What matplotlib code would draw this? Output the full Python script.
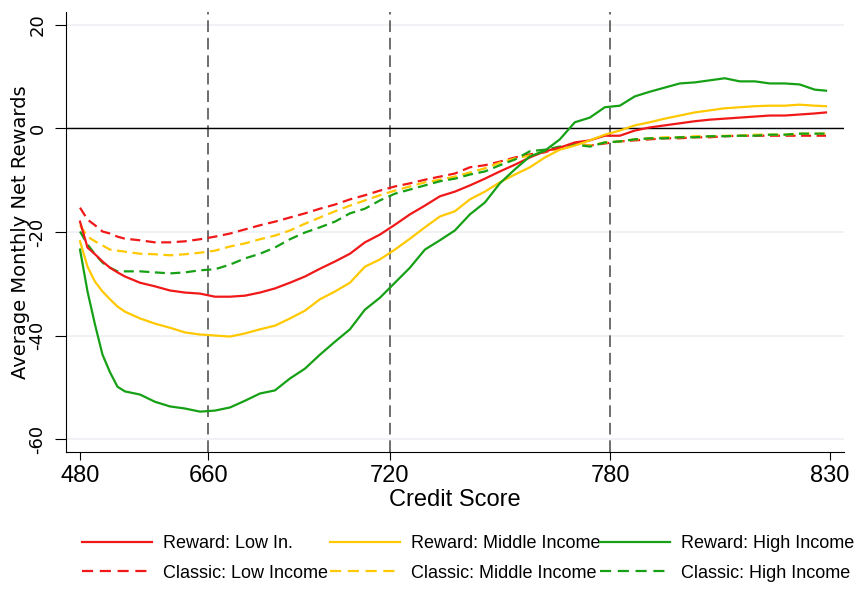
import matplotlib
matplotlib.use("Agg")
import matplotlib.pyplot as plt
from matplotlib.lines import Line2D

# x positions are credit-score percentiles (0-100), labelled with the score
pct = [0, 1, 2, 3, 4, 5, 6, 8, 10, 12, 14, 16, 18, 20, 22, 24, 26, 28, 30,
       32, 34, 36, 38, 40, 42, 44, 46, 48, 50, 52, 54, 56, 58, 60, 62, 64,
       66, 68, 70, 72, 74, 76, 78, 80, 82, 84, 86, 88, 90, 92, 94, 96, 98, 99.5]
score_labels = ["480", "660", "720", "780", "830"]
score_pct = [0, 17.1, 41.3, 70.7, 100]

reward_low = [-18.0, -23.0, -24.3, -25.7, -26.9, -27.8, -28.6, -29.8, -30.5,
              -31.3, -31.7, -31.9, -32.5, -32.5, -32.3, -31.7, -30.9, -29.8,
              -28.6, -27.1, -25.7, -24.2, -22.0, -20.5, -18.6, -16.6, -14.9,
              -13.1, -12.2, -11.0, -9.7, -8.3, -7.0, -5.6, -4.4, -3.7, -2.7,
              -2.3, -1.4, -1.4, -0.4, 0.2, 0.6, 1.0, 1.4, 1.7, 1.9, 2.1, 2.3,
              2.5, 2.5, 2.7, 2.9, 3.1]
reward_mid = [-21.8, -26.7, -29.6, -31.5, -33.0, -34.4, -35.4, -36.7, -37.7,
              -38.5, -39.4, -39.8, -40.0, -40.2, -39.6, -38.8, -38.1, -36.7,
              -35.2, -33.0, -31.5, -29.8, -26.7, -25.3, -23.4, -21.3, -19.1,
              -17.0, -16.0, -13.7, -12.2, -10.4, -8.9, -7.5, -5.6, -4.1, -3.3,
              -2.3, -1.2, -0.4, 0.6, 1.2, 1.9, 2.5, 3.1, 3.5, 3.9, 4.1, 4.3,
              4.4, 4.4, 4.6, 4.4, 4.3]
reward_high = [-23.4, -31.5, -37.9, -43.7, -47.1, -49.9, -50.8, -51.4, -52.8,
               -53.7, -54.1, -54.7, -54.5, -53.9, -52.6, -51.2, -50.6, -48.3,
               -46.4, -43.7, -41.2, -38.8, -35.0, -32.7, -29.8, -26.9, -23.4,
               -21.6, -19.7, -16.6, -14.3, -10.6, -7.9, -5.4, -4.3, -2.1, 1.2,
               2.1, 4.1, 4.4, 6.2, 7.1, 7.9, 8.7, 8.9, 9.3, 9.7, 9.1, 9.1, 8.7,
               8.7, 8.5, 7.5, 7.3]
classic_low = [-15.3, -17.6, -18.7, -19.9, -20.3, -20.9, -21.3, -21.6, -22.0,
               -22.0, -21.8, -21.4, -20.9, -20.3, -19.5, -18.7, -18.0, -17.2,
               -16.4, -15.5, -14.7, -13.7, -12.9, -12.0, -11.2, -10.6, -9.9,
               -9.3, -8.7, -7.5, -7.1, -6.4, -5.6, -5.0, -4.6, -3.7, -2.9, -3.3,
               -2.9, -2.5, -2.3, -2.1, -1.9, -1.9, -1.7, -1.7, -1.5, -1.4, -1.4,
               -1.4, -1.4, -1.4, -1.4, -1.4]
classic_mid = [-18.7, -20.9, -21.8, -22.6, -23.4, -23.6, -23.8, -24.2, -24.3,
               -24.5, -24.3, -24.0, -23.6, -22.8, -22.2, -21.4, -20.7, -19.7,
               -18.4, -17.2, -16.0, -14.9, -13.9, -12.9, -12.0, -11.2, -10.4,
               -9.9, -9.3, -8.5, -7.7, -6.6, -5.8, -5.2, -4.4, -3.9, -3.1, -3.3,
               -2.7, -2.5, -2.1, -1.9, -1.7, -1.7, -1.5, -1.5, -1.4, -1.4, -1.2,
               -1.2, -1.2, -1.0, -1.0, -1.0]
classic_high = [-19.9, -22.4, -24.3, -25.9, -26.9, -27.6, -27.6, -27.6, -27.8,
                -28.0, -27.8, -27.4, -27.2, -26.3, -25.1, -24.2, -23.0, -21.4,
                -20.1, -19.1, -18.0, -16.4, -15.5, -13.9, -12.6, -11.8, -11.0,
                -10.2, -9.7, -8.9, -8.3, -7.1, -6.0, -4.4, -4.1, -3.5, -3.1,
                -3.5, -2.7, -2.5, -2.1, -1.9, -1.9, -1.7, -1.7, -1.5, -1.5, -1.4,
                -1.4, -1.2, -1.2, -1.0, -1.0, -1.0]

RED = "#f01818"
YELLOW = "#ffc800"
GREEN = "#16a016"
SANS = "Liberation Sans"

fig = plt.figure(figsize=(8.6, 5.89), dpi=100)
ax = fig.add_axes([66 / 860, 1 - 452 / 589, 778 / 860, 440 / 589])

ax.set_xlim(-1.87, 101.9)
ax.set_ylim(-62.5, 22.5)
ax.yaxis.grid(True, color="#edf0f3", lw=1.2)
ax.set_axisbelow(True)

for p in score_pct[1:4]:
    ax.axvline(p, color="#555555", lw=1.2, dashes=(7, 3.5))
ax.axhline(0, color="black", lw=1.0)

lw = 1.6
dash = (4.5, 2.5)
ax.plot(pct, classic_low, color=RED, lw=lw, dashes=dash)
ax.plot(pct, classic_mid, color=YELLOW, lw=lw, dashes=dash)
ax.plot(pct, classic_high, color=GREEN, lw=lw, dashes=dash)
ax.plot(pct, reward_low, color=RED, lw=lw)
ax.plot(pct, reward_mid, color=YELLOW, lw=lw)
ax.plot(pct, reward_high, color=GREEN, lw=lw)

ax.spines["top"].set_visible(False)
ax.spines["right"].set_visible(False)

ax.set_xticks(score_pct)
ax.set_xticklabels(score_labels, fontsize=17, family=SANS)
ax.tick_params(axis="x", length=6, pad=3)

ax.set_yticks([20, 0, -20, -40, -60])
ax.set_yticklabels(["20", "0", "-20", "-40", "-60"], fontsize=13,
                   rotation=90, va="center")
ax.tick_params(axis="y", length=8, pad=6)

ax.set_xlabel("Credit Score", fontsize=17, family=SANS, labelpad=2)
ax.set_ylabel("Average Monthly Net Rewards", fontsize=14)
ax.yaxis.set_label_coords(-0.046, 0.5)

# legend: three columns of two entries each
columns = [
    [("Reward: Low In.", RED, "-"), ("Classic: Low Income", RED, "--")],
    [("Reward: Middle Income", YELLOW, "-"), ("Classic: Middle Income", YELLOW, "--")],
    [("Reward: High Income", GREEN, "-"), ("Classic: High Income", GREEN, "--")],
]
col_x = [82, 330, 600]
for x0, entries in zip(col_x, columns):
    handles = []
    for label, color, ls in entries:
        h = Line2D([], [], color=color, lw=lw, label=label)
        if ls == "--":
            h.set_dashes((5, 3))
        handles.append(h)
    fig.legend(handles=handles, loc="upper left",
               bbox_to_anchor=(x0 / 860, 1 - 535 / 589), frameon=False,
               borderpad=0, borderaxespad=0, handlelength=3.9,
               handletextpad=0.6, labelspacing=0.7,
               prop={"family": SANS, "size": 13})

fig.savefig("out.png", dpi=100)
